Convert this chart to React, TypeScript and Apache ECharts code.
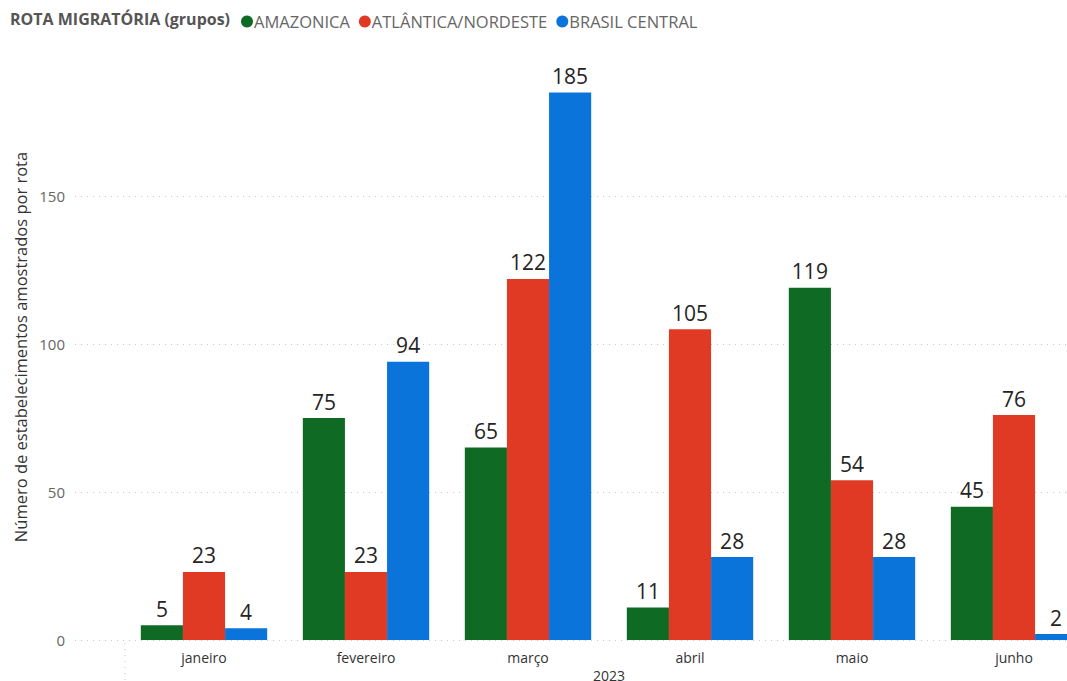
import React, { useEffect, useRef } from "react";
import * as echarts from "echarts";

const months = ["janeiro", "fevereiro", "março", "abril", "maio", "junho"];
const amazonica = [5, 75, 65, 11, 119, 45];
const atlantica = [23, 23, 122, 105, 54, 76];
const brasilCentral = [4, 94, 185, 28, 28, 2];
const yTicks = [0, 50, 100, 150];
const seriesNames = ["AMAZONICA", "ATLÂNTICA/NORDESTE", "BRASIL CENTRAL"];
const colors = ["#0F6B24", "#E03A24", "#0A74DA"];
const yTitle = "Número de estabelecimentos amostrados por rota";

const FONT = "'Segoe UI', 'Open Sans', sans-serif";

export default function App() {
  const ref = useRef<HTMLDivElement>(null);
  useEffect(() => {
    document.body.style.margin = "0";
    const chart = echarts.init(ref.current!, null, { renderer: "svg" });
    const label = {
      show: true,
      position: "top" as const,
      distance: 6,
      fontSize: 21,
      color: "#252423",
      fontFamily: FONT,
    };
    const values = [amazonica, atlantica, brasilCentral];
    chart.setOption({
      animation: false,
      textStyle: { fontFamily: FONT },
      title: {
        text: "ROTA MIGRATÓRIA (grupos)",
        left: 5,
        top: 6,
        textStyle: { fontSize: 16, fontWeight: "bold", color: "#555", fontFamily: FONT },
      },
      legend: {
        left: 236,
        top: 8,
        icon: "circle",
        itemWidth: 12,
        itemHeight: 12,
        itemGap: 9,
        data: seriesNames,
        textStyle: { fontSize: 16.5, color: "#666", fontFamily: FONT, padding: [0, 0, 0, -4] },
      },
      grid: [
        { left: 75, right: -28, top: 48, bottom: 41, outerBoundsMode: "none" },
        { left: 123, right: -28, top: 48, bottom: 41, outerBoundsMode: "none" },
      ],
      xAxis: [
        { type: "category", gridIndex: 0, data: months, show: false },
        {
          type: "category",
          gridIndex: 1,
          data: months,
          axisLine: { show: false },
          axisTick: { show: false },
          axisLabel: { fontSize: 14, color: "#333", margin: 10, fontFamily: FONT },
          name: "2023",
          nameLocation: "middle",
          nameGap: 25,
          nameTextStyle: { fontSize: 14, lineHeight: 14, color: "#333", fontFamily: FONT },
        },
      ],
      yAxis: [
        {
          type: "value",
          gridIndex: 0,
          min: 0,
          max: 200,
          interval: 50,
          axisLine: { show: false },
          axisTick: { show: false },
          axisLabel: {
            fontSize: 15,
            color: "#666",
            margin: 10,
            showMaxLabel: false,
            fontFamily: FONT,
            formatter: (v: number) => (yTicks.includes(v) ? String(v) : ""),
          },
          splitLine: {
            show: true,
            showMaxLine: false,
            lineStyle: { color: "#c8c8c8", type: [1, 5], width: 1 },
          },
        },
        {
          type: "value",
          gridIndex: 1,
          min: 0,
          max: 200,
          interval: 50,
          show: false,
          splitLine: { show: false },
        },
      ],
      graphic: [
        {
          type: "text",
          x: 20,
          y: 347,
          rotation: Math.PI / 2,
          style: {
            text: yTitle,
            fontSize: 16.5,
            fill: "#333",
            fontFamily: FONT,
            textAlign: "center",
            textVerticalAlign: "middle",
          },
        },
        {
          type: "line",
          shape: { x1: 125, y1: 643, x2: 125, y2: 681 },
          style: { stroke: "#c8c8c8", lineWidth: 1, lineDash: [1, 5] },
        },
      ],
      series: seriesNames.map((name, i) => ({
        name,
        type: "bar",
        xAxisIndex: 1,
        yAxisIndex: 1,
        data: values[i],
        barGap: "0%",
        barCategoryGap: "22%",
        itemStyle: { color: colors[i] },
        label,
      })),
    });
    return () => chart.dispose();
  }, []);
  return <div ref={ref} style={{ width: 1067, height: 681 }} />;
}
